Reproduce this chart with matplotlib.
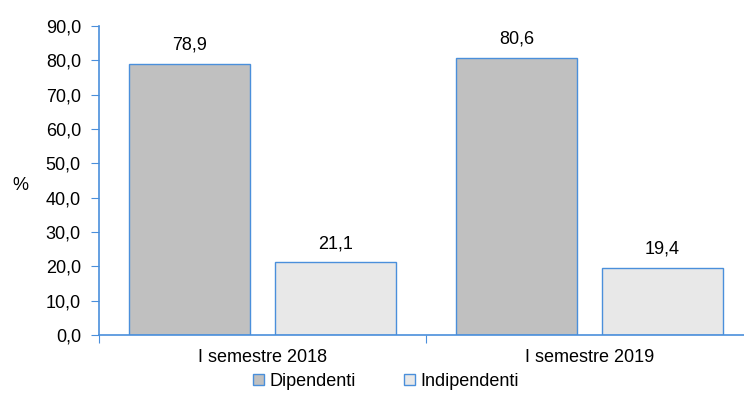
import matplotlib
matplotlib.use('Agg')
import matplotlib.pyplot as plt
import numpy as np

plt.rcParams['font.family'] = ['Liberation Sans', 'DejaVu Sans']

categories = ['I semestre 2018', 'I semestre 2019']
dipendenti = [78.9, 80.6]
indipendenti = [21.1, 19.4]
yticks = np.arange(0, 91, 10)

edge = '#4a8fdb'
fs = 13

fig = plt.figure(figsize=(7.44, 4.16), dpi=100)
ax = fig.add_axes([0.133, 0.195, 0.867, 0.7425])

x = np.arange(len(categories))
w = 0.37
b1 = ax.bar(x + 0.277, dipendenti, w, color='#c0c0c0', edgecolor=edge, linewidth=1.0, label='Dipendenti')
b2 = ax.bar(x + 0.723, indipendenti, w, color='#e8e8e8', edgecolor=edge, linewidth=1.0, label='Indipendenti')

for bars, vals in [(b1, dipendenti), (b2, indipendenti)]:
    for r, v in zip(bars, vals):
        ax.text(r.get_x() + r.get_width() / 2, v + 5.5, f'{v:.1f}'.replace('.', ','),
                ha='center', va='center', fontsize=fs)

ax.set_xlim(0, 1.973)
ax.set_ylim(0, 90)
ax.set_yticks(yticks)
ax.set_yticklabels([f'{t:.1f}'.replace('.', ',') for t in yticks], fontsize=fs)
ax.set_xticks([0, 1])
ax.set_xticklabels([])
ax.set_xticks(x + 0.5, minor=True)
ax.set_xticklabels(categories, minor=True, fontsize=fs)
ax.tick_params(axis='x', which='minor', length=0, pad=10)
ax.tick_params(axis='x', which='major', length=6, color=edge, direction='out')
ax.tick_params(axis='y', length=6, color=edge, direction='out', pad=7)

for s in ['top', 'right']:
    ax.spines[s].set_visible(False)
for s in ['left', 'bottom']:
    ax.spines[s].set_color(edge)
    ax.spines[s].set_linewidth(1.2)

fig.text(0.027, 0.553, '%', fontsize=fs, ha='center', va='center')

fig.legend(handles=[b1, b2], loc='center', bbox_to_anchor=(0.519, 0.083), ncol=2,
           frameon=False, fontsize=fs, handlelength=0.6, handleheight=0.6,
           handletextpad=0.3, columnspacing=2.7)

fig.savefig('out.png', dpi=100)
